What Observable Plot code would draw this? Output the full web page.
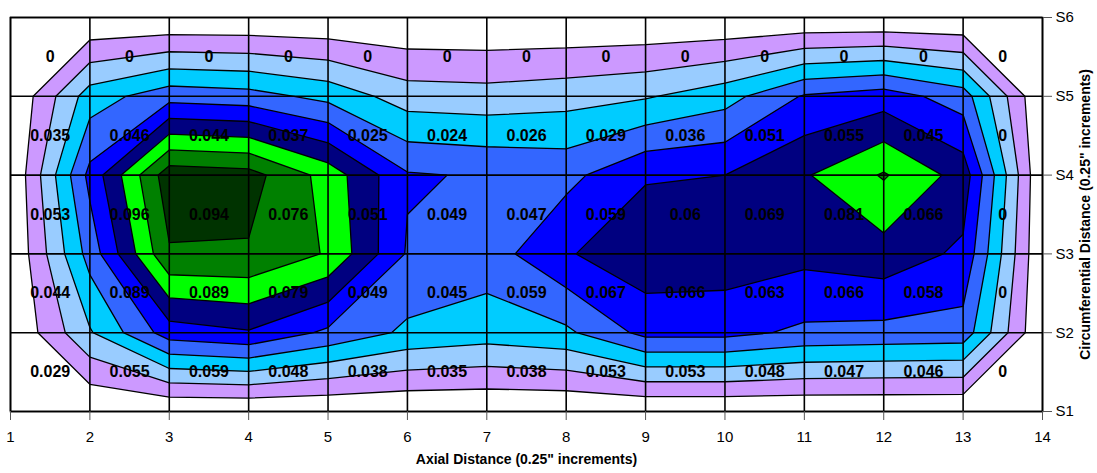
<!DOCTYPE html>
<html><head><meta charset="utf-8">
<script src="https://cdn.jsdelivr.net/npm/d3@7"></script>
<script src="https://cdn.jsdelivr.net/npm/@observablehq/plot@0.6"></script>
<style>body{margin:0;background:#fff;} svg{display:block;}</style>
</head><body><div id="chart"></div>
<script>
// Axial positions (x nodes) and circumferential series (y nodes)
const axial = [1,2,3,4,5,6,7,8,9,10,11,12,13,14];
const series = ["S1","S2","S3","S4","S5","S6"];
// Node values per series, x = 1..14
const S1 = [0,0,0,0,0,0,0,0,0,0,0,0,0,0];
const S2 = [0,0.029,0.055,0.059,0.048,0.038,0.035,0.038,0.053,0.053,0.048,0.047,0.046,0];
const S3 = [0,0.044,0.089,0.089,0.079,0.049,0.045,0.059,0.067,0.066,0.063,0.066,0.058,0];
const S4 = [0,0.053,0.096,0.094,0.076,0.051,0.049,0.047,0.059,0.06,0.069,0.081,0.066,0];
const S5 = [0,0.035,0.046,0.044,0.037,0.025,0.024,0.026,0.029,0.036,0.051,0.055,0.045,0];
const S6 = [0,0,0,0,0,0,0,0,0,0,0,0,0,0];
const rows = [S1,S2,S3,S4,S5,S6];
// Contour levels and band colours
const levels = [0.01,0.02,0.03,0.04,0.05,0.06,0.07,0.08,0.09];
const bandColors = ["#CC99FF","#99CCFF","#00CCFF","#3366FF","#0000FF","#000080","#00FF00","#008000","#003300"];
const xTitle = "Axial Distance (0.25\" increments)";
const yTitle = "Circumferential Distance (0.25\" increments)";

const grid = rows.flat();
const labels = [];
for (let j = 1; j < rows.length; j++) {
  for (let i = 1; i < axial.length; i++) {
    labels.push({x: axial[i] - 0.5, y: j + 1 - 0.5, v: String(rows[j][i])});
  }
}
const colorDomain = levels.slice(1).map(t => t - 0.005);

const chart = Plot.plot({
  width: 1097, height: 473,
  marginLeft: 10, marginRight: 55, marginTop: 17, marginBottom: 62,
  x: {domain: [1, 14]},
  y: {domain: [1, 6]},
  color: {type: "threshold", domain: colorDomain, range: bandColors},
  style: {fontFamily: "'Liberation Sans', Arial, sans-serif", background: "white", color: "black"},
  marks: [
    Plot.contour(grid, {
      width: axial.length, height: series.length,
      x1: 0.5, x2: 14.5, y1: 0.5, y2: 6.5,
      fill: Plot.identity, thresholds: levels,
      stroke: "black", strokeWidth: 1.3, strokeOpacity: 1
    }),
    Plot.gridX(axial, {stroke: "black", strokeOpacity: 1, strokeWidth: 1.6}),
    Plot.gridY(d3.range(1, 7), {stroke: "black", strokeOpacity: 1, strokeWidth: 1.6}),
    Plot.frame({stroke: "black", strokeWidth: 1.6}),
    Plot.axisX(axial, {tickSize: 9, tickPadding: 11, fontSize: 15, label: null, stroke: "#555"}),
    Plot.axisY(d3.range(1, 7), {anchor: "right", tickSize: 9, tickPadding: 4, fontSize: 15, label: null,
      tickFormat: d => series[d - 1], stroke: "#555"}),
    Plot.text(labels, {x: "x", y: "y", text: "v", fontWeight: "bold", fontSize: 16, fill: "black"}),
    Plot.text([xTitle], {frameAnchor: "bottom", text: d => d, dy: 52, fontWeight: "bold", fontSize: 14}),
    Plot.text([yTitle], {frameAnchor: "right", text: d => d, rotate: -90, dx: 43, textAnchor: "middle", fontWeight: "bold", fontSize: 14})
  ]
});
document.getElementById("chart").appendChild(chart);
</script>
</body></html>
